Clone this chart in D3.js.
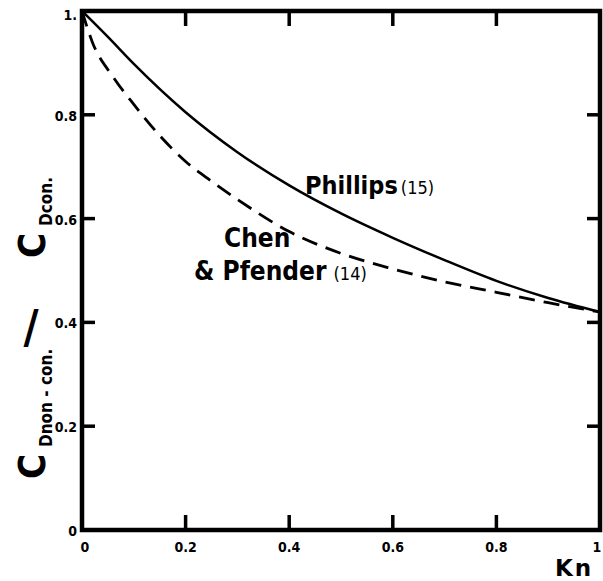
<!DOCTYPE html>
<html>
<head>
<meta charset="utf-8">
<script src="https://cdn.jsdelivr.net/npm/d3@7"></script>
<style>
  body { margin: 0; background: #fff; }
  text { font-family: "DejaVu Sans Condensed", "Liberation Sans Narrow", "DejaVu Sans", sans-serif; font-weight: bold; fill: #000; }
</style>
</head>
<body>
<script>
// Kn values and drag ratio
var phillipsKn = [0, 0.05, 0.1, 0.2, 0.3, 0.4, 0.5, 0.6, 0.7, 0.8, 0.9, 1.0];
var phillipsCd = [1.0, 0.95, 0.898, 0.805, 0.728, 0.664, 0.61, 0.563, 0.52, 0.48, 0.447, 0.42];

var chenKn = [0, 0.02, 0.06, 0.1, 0.15, 0.2, 0.25, 0.3, 0.4, 0.5, 0.6, 0.7, 0.8, 0.9, 1.0];
var chenCd = [1.0, 0.94, 0.873, 0.82, 0.76, 0.71, 0.672, 0.637, 0.575, 0.533, 0.503, 0.478, 0.458, 0.438, 0.42];

var xTicks = [0, 0.2, 0.4, 0.6, 0.8, 1];
var yTicks = [0, 0.2, 0.4, 0.6, 0.8, 1];
var xTickLabels = ["0", "0.2", "0.4", "0.6", "0.8", "1"];
var yTickLabels = ["0", "0.2", "0.4", "0.6", "0.8", "1."];
var innerTicks = [0.2, 0.4, 0.6, 0.8];

var width = 603, height = 581;
var plotL = 82, plotR = 600, plotT = 11, plotB = 530;

var svg = d3.select("body").append("svg")
    .attr("width", width)
    .attr("height", height);

var x = d3.scaleLinear().domain([0, 1]).range([plotL, plotR]);
var y = d3.scaleLinear().domain([0, 1]).range([plotB, plotT]);

// frame
svg.append("rect")
    .attr("x", plotL).attr("y", plotT)
    .attr("width", plotR - plotL).attr("height", plotB - plotT)
    .attr("fill", "none").attr("stroke", "#000").attr("stroke-width", 4.5);

// inner ticks on all four sides
var tk = svg.append("g").attr("fill", "#000");
innerTicks.forEach(function(v) {
  tk.append("rect").attr("x", x(v) - 1.75).attr("y", plotB - 15).attr("width", 3.5).attr("height", 15);
  tk.append("rect").attr("x", x(v) - 1.75).attr("y", plotT).attr("width", 3.5).attr("height", 15);
  tk.append("rect").attr("x", plotL).attr("y", y(v) - 1.75).attr("width", 13).attr("height", 3.5);
  tk.append("rect").attr("x", plotR - 13).attr("y", y(v) - 1.75).attr("width", 13).attr("height", 3.5);
});

// tick labels
svg.selectAll(".xl").data(xTicks).enter().append("text")
    .attr("x", function(d) { return x(d) + (d === 0 ? 3 : (d === 1 ? -3 : 0)); })
    .attr("y", plotB + 22)
    .attr("text-anchor", "middle")
    .style("font-size", "14px")
    .text(function(d, i) { return xTickLabels[i]; });

svg.selectAll(".yl").data(yTicks).enter().append("text")
    .attr("x", plotL - 5)
    .attr("y", function(d) { return y(d) + (d === 1 ? 9 : 6); })
    .attr("text-anchor", "end")
    .style("font-size", "14px")
    .text(function(d, i) { return yTickLabels[i]; });

// curves
var line = d3.line()
    .x(function(d) { return x(d[0]); })
    .y(function(d) { return y(d[1]); })
    .curve(d3.curveMonotoneX);

svg.append("path")
    .datum(d3.zip(phillipsKn, phillipsCd))
    .attr("d", line)
    .attr("fill", "none").attr("stroke", "#000").attr("stroke-width", 2.5);

svg.append("path")
    .datum(d3.zip(chenKn, chenCd))
    .attr("d", line)
    .attr("fill", "none").attr("stroke", "#000").attr("stroke-width", 2.8)
    .attr("stroke-dasharray", "16,9");

// curve labels
var ph = svg.append("text").attr("x", 305).attr("y", 194);
ph.append("tspan").style("font-size", "25px").text("Phillips");
ph.append("tspan").style("font-size", "18px").style("font-weight", "normal").attr("dx", 3).text("(15)");

svg.append("text").attr("x", 224).attr("y", 247).style("font-size", "26px").text("Chen");
var cp = svg.append("text").attr("x", 194).attr("y", 280);
cp.append("tspan").style("font-size", "26px").text("& Pfender");
cp.append("tspan").style("font-size", "18px").style("font-weight", "normal").attr("dx", 7).text("(14)");

// axis titles
svg.append("text").attr("x", 555).attr("y", 576)
    .style("font-family", "DejaVu Sans").style("font-size", "23px").style("letter-spacing", "2px").text("Kn");

var yl = svg.append("g").attr("transform", "rotate(-90)");
yl.append("text").attr("x", -479).attr("y", 45).style("font-size", "38px").text("C");
yl.append("text").attr("x", -447).attr("y", 52).style("font-size", "17px").text("Dnon - con.");
yl.append("text").attr("x", -258).attr("y", 45).style("font-size", "38px").text("C");
yl.append("text").attr("x", -226).attr("y", 52).style("font-size", "17px").text("Dcon.");
// the slash stands upright in the original
svg.append("text").attr("x", 31).attr("y", 343).attr("text-anchor", "middle")
    .style("font-size", "46px").text("/");
</script>
</body>
</html>
